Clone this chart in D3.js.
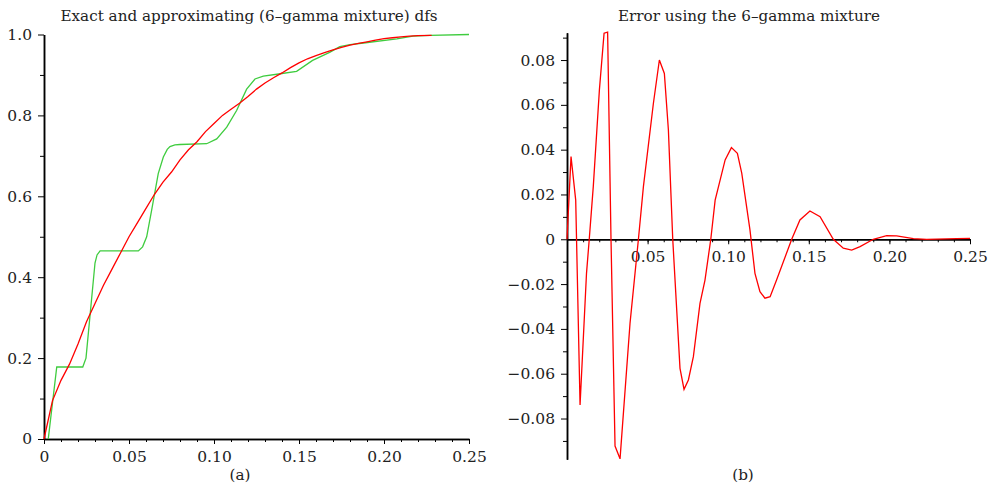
<!DOCTYPE html>
<html>
<head>
<meta charset="utf-8">
<script src="https://cdn.jsdelivr.net/npm/d3@7"></script>
<style>
  body { margin: 0; background: #fff; }
  svg text { font-family: "DejaVu Serif", serif; fill: #222; }
  .axis path, .axis line { stroke: #000; }
  .axis path { stroke-width: 1.5; }
  .axis text { font-size: 15.5px; font-family: "DejaVu Serif", serif; fill: #222; }
</style>
</head>
<body>
<svg id="chart" width="989" height="490"></svg>
<script>
// exact df (red)
let exactX = [0, 0.005, 0.01, 0.015, 0.02, 0.025, 0.03, 0.035, 0.04, 0.045, 0.05,
  0.055, 0.06, 0.065, 0.07, 0.075, 0.08, 0.085, 0.09, 0.095, 0.10,
  0.105, 0.11, 0.115, 0.12, 0.125, 0.13, 0.135, 0.14, 0.145, 0.15,
  0.155, 0.16, 0.165, 0.17, 0.175, 0.18, 0.185, 0.19, 0.195, 0.20,
  0.205, 0.21, 0.215, 0.22, 0.228];
let exactF = [0, 0.095, 0.145, 0.185, 0.235, 0.29, 0.335, 0.38, 0.42, 0.46, 0.50,
  0.535, 0.57, 0.605, 0.635, 0.66, 0.69, 0.715, 0.735, 0.76, 0.78,
  0.80, 0.815, 0.83, 0.847, 0.865, 0.88, 0.893, 0.905, 0.918, 0.93,
  0.94, 0.948, 0.955, 0.962, 0.968, 0.974, 0.978, 0.982, 0.986, 0.99,
  0.992, 0.994, 0.996, 0.997, 0.998];

// 6-gamma mixture df (green)
let mixX = [0.0025, 0.0075, 0.0228, 0.0247, 0.030, 0.0312, 0.033, 0.0555, 0.058, 0.0604, 0.0633,
  0.0672, 0.0702, 0.0725, 0.0741, 0.077, 0.080, 0.0957, 0.1016, 0.1075, 0.1133, 0.1192, 0.1241,
  0.129, 0.139, 0.1486, 0.158, 0.168, 0.174, 0.18, 0.188, 0.2075, 0.217, 0.227, 0.25];
let mixF = [0, 0.178, 0.178, 0.20, 0.435, 0.455, 0.465, 0.465, 0.475, 0.50, 0.565,
  0.656, 0.697, 0.716, 0.723, 0.727, 0.728, 0.730, 0.742, 0.771, 0.812, 0.865, 0.89,
  0.897, 0.903, 0.909, 0.936, 0.956, 0.970, 0.975, 0.979, 0.989, 0.996, 0.998, 1.0];

// error of the mixture
let errX = [0, 0.0025, 0.0054, 0.0081, 0.0121, 0.0138, 0.0163, 0.0201, 0.023, 0.0252,
  0.0273, 0.0298, 0.0329, 0.0391, 0.0443, 0.0474, 0.0536, 0.0573, 0.0604, 0.0629,
  0.0656, 0.0701, 0.0726, 0.0753, 0.0784, 0.0825, 0.0856, 0.0892, 0.0919, 0.0981,
  0.102, 0.1057, 0.1084, 0.1135, 0.1166, 0.1197, 0.1228, 0.126, 0.130, 0.1394,
  0.1445, 0.1507, 0.157, 0.1652, 0.1714, 0.1766, 0.1818, 0.19, 0.1983, 0.2045,
  0.2149, 0.2231, 0.2417, 0.25];
let errE = [0, 0.0369, 0.0175, -0.074, -0.0152, 0, 0.0235, 0.0667, 0.092, 0.0925,
  0, -0.0923, -0.098, -0.0375, 0, 0.0235, 0.0607, 0.080, 0.074, 0.0488,
  0, -0.0576, -0.067, -0.0628, -0.0524, -0.0286, -0.0182, 0, 0.0175, 0.0354,
  0.0409, 0.0384, 0.0295, 0.0042, -0.0152, -0.0234, -0.0263, -0.0256, -0.0182, 0,
  0.0086, 0.0126, 0.0101, 0, -0.004, -0.0048, -0.0033, 0, 0.0016, 0.0015,
  0.0003, 0, 0.0003, 0.0004];

let leftXMajor = [0, 0.05, 0.10, 0.15, 0.20, 0.25];
let leftYMajor = [0, 0.2, 0.4, 0.6, 0.8, 1.0];
let rightXMajor = [0.05, 0.10, 0.15, 0.20, 0.25];
let rightYMajor = [-0.08, -0.06, -0.04, -0.02, 0, 0.02, 0.04, 0.06, 0.08];

let svg = d3.select("#chart");

function fmt(dec) {
  let f = d3.format("." + dec + "f");
  return (d) => d === 0 ? "0" : f(d);
}
function minorTicks(lo, hi, step) {
  let out = [];
  for (let v = lo; v <= hi + 1e-9; v += step) out.push(+v.toFixed(4));
  return out;
}

// ---- left panel ----
let xa = d3.scaleLinear().domain([0, 0.25]).range([44, 469]);
let ya = d3.scaleLinear().domain([0, 1]).range([439, 34.5]);

svg.append("g").attr("class", "axis")
    .attr("transform", "translate(0,439)")
    .call(d3.axisBottom(xa).tickValues(minorTicks(0, 0.25, 0.01)).tickSize(3).tickSizeOuter(0).tickFormat(""));
svg.append("g").attr("class", "axis")
    .attr("transform", "translate(0,439)")
    .call(d3.axisBottom(xa).tickValues(leftXMajor).tickSize(5).tickSizeOuter(0).tickPadding(7).tickFormat(fmt(2)));
svg.append("g").attr("class", "axis")
    .attr("transform", "translate(44,0)")
    .call(d3.axisLeft(ya).tickValues(minorTicks(0.1, 0.9, 0.2)).tickSize(4).tickSizeOuter(0).tickFormat(""));
svg.append("g").attr("class", "axis")
    .attr("transform", "translate(44,0)")
    .call(d3.axisLeft(ya).tickValues(leftYMajor).tickSize(6).tickSizeOuter(0).tickPadding(6).tickFormat(fmt(1)));

let lineA = d3.line().x((d) => xa(d[0])).y((d) => ya(d[1]));
svg.append("path")
    .attr("d", lineA(mixX.map((x, i) => [x, mixF[i]])))
    .attr("fill", "none").attr("stroke", "#3fcc3f").attr("stroke-width", 1.3);
svg.append("path")
    .attr("d", lineA(exactX.map((x, i) => [x, exactF[i]])))
    .attr("fill", "none").attr("stroke", "#ff0000").attr("stroke-width", 1.3);

svg.append("text").attr("x", 249).attr("y", 21).attr("text-anchor", "middle")
    .style("font-size", "15.2px").text("Exact and approximating (6–gamma mixture) dfs");
svg.append("text").attr("x", 240).attr("y", 480).attr("text-anchor", "middle")
    .style("font-size", "15.2px").text("(a)");

// ---- right panel ----
let xb = d3.scaleLinear().domain([0, 0.25]).range([567, 970]);
let yb = d3.scaleLinear().domain([-0.0982, 0.0922]).range([459.3, 32.7]);

svg.append("g").attr("class", "axis")
    .attr("transform", "translate(0," + yb(0) + ")")
    .call(d3.axisBottom(xb).tickValues(minorTicks(0.01, 0.25, 0.01)).tickSize(3).tickSizeOuter(0).tickFormat(""));
svg.append("g").attr("class", "axis")
    .attr("transform", "translate(0," + yb(0) + ")")
    .call(d3.axisBottom(xb).tickValues(rightXMajor).tickSize(5).tickSizeOuter(0).tickPadding(7).tickFormat(fmt(2)));
svg.append("g").attr("class", "axis")
    .attr("transform", "translate(567,0)")
    .call(d3.axisLeft(yb).tickValues(minorTicks(-0.09, 0.09, 0.02)).tickSize(4).tickSizeOuter(0).tickFormat(""));
svg.append("g").attr("class", "axis")
    .attr("transform", "translate(567,0)")
    .call(d3.axisLeft(yb).tickValues(rightYMajor).tickSize(6).tickSizeOuter(0).tickPadding(6).tickFormat(fmt(2)));

let lineB = d3.line().x((d) => xb(d[0])).y((d) => yb(d[1]));
svg.append("path")
    .attr("d", lineB(errX.map((x, i) => [x, errE[i]])))
    .attr("fill", "none").attr("stroke", "#ff0000").attr("stroke-width", 1.3);

svg.append("text").attr("x", 749).attr("y", 21).attr("text-anchor", "middle")
    .style("font-size", "15.2px").text("Error using the 6–gamma mixture");
svg.append("text").attr("x", 743).attr("y", 480).attr("text-anchor", "middle")
    .style("font-size", "15.2px").text("(b)");
</script>
</body>
</html>
